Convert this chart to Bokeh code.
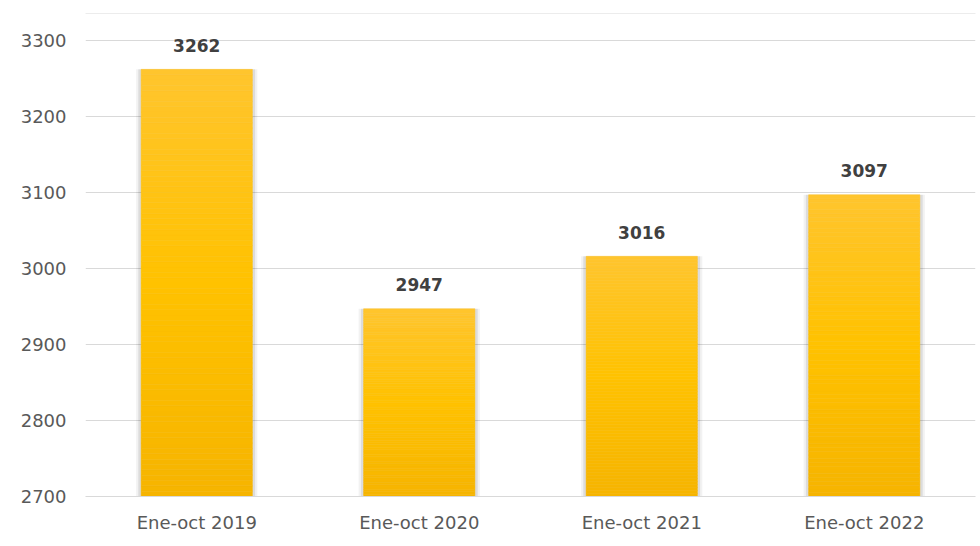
from bokeh.plotting import figure
from bokeh.models import ColumnDataSource, FactorRange, Range1d, FixedTicker, BoxAnnotation
from bokeh.core.properties import value
from bokeh.embed import file_html
from bokeh.resources import INLINE

categories = ["Ene-oct 2019", "Ene-oct 2020", "Ene-oct 2021", "Ene-oct 2022"]
values = [3262, 2947, 3016, 3097]
y_ticks = [2700, 2800, 2900, 3000, 3100, 3200, 3300]

BASE = 2700
FONT = "DejaVu Sans"

p = figure(width=980, height=546, x_range=FactorRange(*categories),
           y_range=Range1d(BASE, 3335.5), output_backend="svg",
           toolbar_location=None, min_border_left=85, min_border_right=5,
           min_border_top=13, min_border_bottom=50)
p.outline_line_color = None
p.background_fill_color = "white"

# soft shadows
p.vbar(x=categories, top=values, bottom=BASE, width=0.545, fill_color="#000000",
       fill_alpha=0.05, line_color=None)
p.vbar(x=categories, top=values, bottom=BASE, width=0.525, fill_color="#000000",
       fill_alpha=0.09, line_color=None)

# gradient bars built from strips
top_c = (255, 197, 46)
mid_c = (255, 194, 0)
bot_c = (246, 180, 0)
N = 80
xs, bots, tops, cols = [], [], [], []
for c, v in zip(categories, values):
    for i in range(N):
        b = BASE + (v - BASE) * i / N
        t = BASE + (v - BASE) * (i + 1) / N
        f = (i + 0.5) / N  # 0 bottom, 1 top
        if f < 0.5:
            g = f / 0.5
            rgb = tuple(int(round(bot_c[k] + (mid_c[k] - bot_c[k]) * g)) for k in range(3))
        else:
            g = (f - 0.5) / 0.5
            rgb = tuple(int(round(mid_c[k] + (top_c[k] - mid_c[k]) * g)) for k in range(3))
        xs.append(c); bots.append(b); tops.append(t)
        cols.append("#%02x%02x%02x" % rgb)
src = ColumnDataSource(dict(x=xs, bottom=bots, top=tops, color=cols))
p.vbar(x="x", bottom="bottom", top="top", width=0.5, source=src,
       fill_color="color", line_color="color", line_width=0.5)

# value labels
p.text(x=categories, y=values, text=[str(v) for v in values],
       text_font=value(FONT), text_font_style="bold", text_font_size="17px",
       text_color="#404040", text_align="center", text_baseline="middle",
       y_offset=-24)

# top border line across the chart area
p.add_layout(BoxAnnotation(left=7, right=980, top=12.5, bottom=13.5,
                           left_units="canvas", right_units="canvas",
                           top_units="canvas", bottom_units="canvas",
                           fill_color="#d9d9d9", fill_alpha=1.0, line_color=None))

p.ygrid.ticker = FixedTicker(ticks=y_ticks)
p.ygrid.grid_line_color = "#d9d9d9"
p.xgrid.grid_line_color = None

p.yaxis.ticker = FixedTicker(ticks=y_ticks)
p.yaxis.axis_line_color = None
p.yaxis.major_tick_line_color = None
p.yaxis.minor_tick_line_color = None
p.yaxis.major_label_text_font = FONT
p.yaxis.major_label_text_font_size = "18px"
p.yaxis.major_label_text_color = "#595959"
p.yaxis.major_label_standoff = 13

p.xaxis.axis_line_color = "#d9d9d9"
p.xaxis.major_tick_line_color = None
p.xaxis.minor_tick_line_color = None
p.xaxis.major_label_text_font = FONT
p.xaxis.major_label_text_font_size = "18px"
p.xaxis.major_label_text_color = "#595959"
p.xaxis.major_label_standoff = 9
p.x_range.range_padding = 0

open("out.html", "w").write(file_html(p, INLINE))
